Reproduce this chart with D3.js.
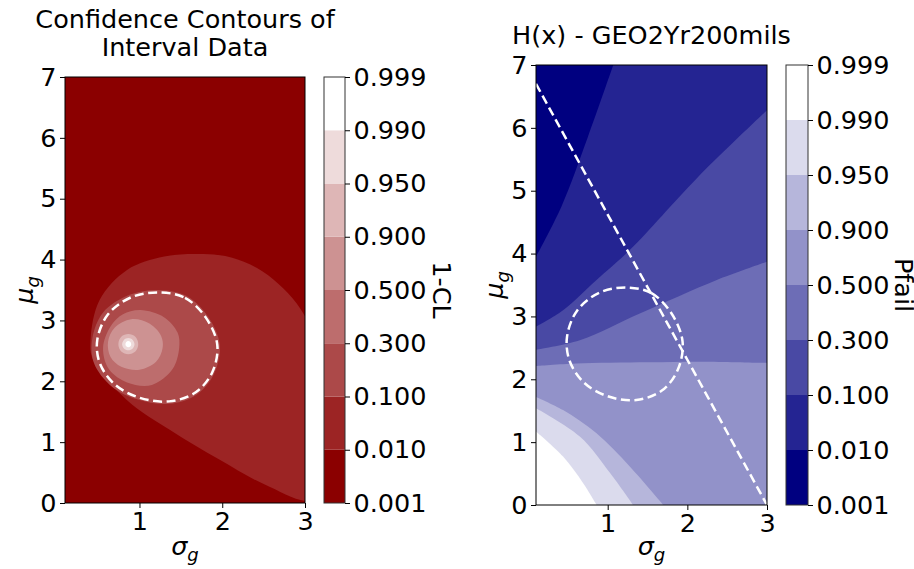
<!DOCTYPE html>
<html>
<head>
<meta charset="utf-8">
<title>Confidence contours</title>
<script src="https://cdn.jsdelivr.net/npm/d3@7"></script>
<style>
body { margin: 0; background: #fff; }
text { font-family: "DejaVu Sans", sans-serif; fill: #000; }
</style>
</head>
<body>
<script>
//Colorbar levels (band edges) and ticks
var levels = ["0.001", "0.010", "0.100", "0.300", "0.500", "0.900", "0.950", "0.990", "0.999"];
var xTicks = [1, 2, 3];
var yTicks = [0, 1, 2, 3, 4, 5, 6, 7];
var xDomain = [0.1, 3];
var yDomain = [0, 7];

//Confidence ellipse (sigma_g, mu_g), drawn on both panels
var ellipse = [[1.24, 3.46], [1.55, 3.37], [1.80, 3.05], [1.94, 2.60], [1.88, 2.15], [1.68, 1.82],
               [1.36, 1.67], [1.00, 1.73], [0.70, 1.95], [0.52, 2.30], [0.49, 2.68], [0.62, 3.10], [0.90, 3.38]];

//Left panel: closed contour rings of 1-CL, one per level 0.010 ... 0.990
var cl010 = [[0.41, 2.70], [0.52, 3.34], [0.85, 3.83], [1.30, 4.05], [1.77, 4.09], [2.12, 4.03], [2.42, 3.86],
             [2.68, 3.60], [2.90, 3.28], [3.08, 2.85], [3.25, 2.20], [3.30, 1.40], [3.20, 0.60], [3.08, 0.05],
             [2.52, 0.30], [1.97, 0.71], [1.37, 1.20], [0.85, 1.69], [0.44, 2.35]];
var cl100 = [[1.22, 3.50], [1.57, 3.40], [1.83, 3.06], [1.97, 2.60], [1.90, 2.12], [1.69, 1.78], [1.36, 1.63],
             [0.98, 1.70], [0.66, 1.92], [0.45, 2.30], [0.43, 2.70], [0.56, 3.13], [0.88, 3.42]];
var cl300 = [[1.01, 3.17], [1.30, 3.05], [1.46, 2.80], [1.48, 2.55], [1.40, 2.20], [1.15, 1.94], [0.85, 1.98],
             [0.63, 2.20], [0.56, 2.55], [0.65, 2.90], [0.80, 3.10]];
var cl500 = [[0.90, 3.02], [1.12, 2.95], [1.26, 2.75], [1.28, 2.55], [1.20, 2.32], [1.00, 2.19], [0.78, 2.24],
             [0.65, 2.40], [0.62, 2.65], [0.70, 2.88]];
var cl900 = [[0.865, 2.775], [0.95, 2.73], [0.985, 2.61], [0.95, 2.49], [0.865, 2.445], [0.78, 2.49], [0.745, 2.61], [0.78, 2.73]];
var cl950 = [[0.865, 2.71], [0.918, 2.68], [0.94, 2.61], [0.918, 2.54], [0.865, 2.51], [0.812, 2.54], [0.79, 2.61], [0.812, 2.68]];
var cl990 = [[0.865, 2.66], [0.89, 2.645], [0.90, 2.61], [0.89, 2.575], [0.865, 2.56], [0.84, 2.575], [0.83, 2.61], [0.84, 2.645]];

//Right panel: open Pfail boundaries, higher Pfail toward lower left
var pf010 = [[1.07, 7.00], [0.75, 5.85], [0.42, 4.75], [0.10, 3.95]];
var pf100 = [[3.00, 6.28], [2.12, 5.20], [1.28, 4.06], [0.86, 3.58], [0.44, 3.10], [0.10, 2.84]];
var pf300 = [[3.00, 3.87], [2.37, 3.58], [1.41, 3.05], [0.65, 2.62], [0.10, 2.47]];
var pf500 = [[3.00, 2.26], [2.20, 2.28], [1.50, 2.27], [0.60, 2.25], [0.10, 2.21]];
var pf900 = [[0.10, 1.72], [0.44, 1.51], [0.86, 1.14], [1.28, 0.61], [1.70, 0.00]];
var pf950 = [[0.10, 1.54], [0.65, 1.09], [1.03, 0.51], [1.32, 0.00]];
var pf990 = [[0.10, 1.17], [0.44, 0.77], [0.69, 0.35], [0.86, 0.00]];

//Limit state line
var limitLine = [[0.1, 6.70], [3.0, 0.0]];

var svgwidth = 914,
    svgheight = 569,
    fontSize = 25.5,
    subSize = 18;

var svg = d3.select("body").append("svg")
    .attr("width", svgwidth)
    .attr("height", svgheight);

svg.append("rect").attr("width", svgwidth).attr("height", svgheight).attr("fill", "#fff");

//Band colours, 8 discrete steps from dark to white
var redColors = d3.range(8).map(function(i) { return d3.interpolateRgb("#8b0000", "#ffffff")(i / 7); });
var blueColors = d3.range(8).map(function(i) { return d3.interpolateRgb("#000080", "#ffffff")(i / 7); });

var leftBox = {x0: 65, x1: 305, y0: 77, y1: 503, cb0: 324, cb1: 345};
var rightBox = {x0: 536, x1: 767, y0: 65, y1: 505, cb0: 786, cb1: 808};

function makePanel(id, box) {
  var x = d3.scaleLinear().domain(xDomain).range([box.x0, box.x1]);
  var y = d3.scaleLinear().domain(yDomain).range([box.y1, box.y0]);

  svg.append("clipPath").attr("id", id)
    .append("rect")
      .attr("x", box.x0).attr("y", box.y0)
      .attr("width", box.x1 - box.x0).attr("height", box.y1 - box.y0);

  var g = svg.append("g").attr("clip-path", "url(#" + id + ")");
  return {x: x, y: y, g: g};
}

function drawAxes(p, box) {
  svg.append("g")
      .attr("transform", "translate(0," + box.y1 + ")")
      .call(d3.axisBottom(p.x).tickValues(xTicks).tickFormat(d3.format("d")).tickSize(5).tickPadding(3.5).tickSizeOuter(0))
      .call(styleAxis);
  svg.append("g")
      .attr("transform", "translate(" + box.x0 + ",0)")
      .call(d3.axisLeft(p.y).tickValues(yTicks).tickFormat(d3.format("d")).tickSize(5).tickPadding(3.5).tickSizeOuter(0))
      .call(styleAxis);
  svg.append("rect")
      .attr("x", box.x0).attr("y", box.y0)
      .attr("width", box.x1 - box.x0).attr("height", box.y1 - box.y0)
      .attr("fill", "none").attr("stroke", "#000").attr("stroke-width", 1);
}

function styleAxis(sel) {
  sel.select(".domain").remove();
  sel.selectAll("text").attr("font-size", fontSize).attr("font-family", "DejaVu Sans");
  sel.selectAll("line").attr("stroke", "#000").attr("stroke-width", 1);
}

function drawColorbar(box, colors, label, labelX) {
  var cy = d3.scaleLinear().domain([0, 8]).range([box.y1, box.y0]);
  svg.append("g").selectAll("rect")
    .data(colors)
    .enter().append("rect")
      .attr("x", box.cb0)
      .attr("y", function(d, i) { return cy(i + 1); })
      .attr("width", box.cb1 - box.cb0)
      .attr("height", function(d, i) { return cy(i) - cy(i + 1); })
      .attr("fill", function(d) { return d; });
  svg.append("rect")
      .attr("x", box.cb0).attr("y", box.y0)
      .attr("width", box.cb1 - box.cb0).attr("height", box.y1 - box.y0)
      .attr("fill", "none").attr("stroke", "#333").attr("stroke-width", 1);
  svg.append("g")
      .attr("transform", "translate(" + box.cb1 + ",0)")
      .call(d3.axisRight(cy).tickValues(d3.range(9)).tickFormat(function(i) { return levels[i]; })
            .tickSize(5).tickPadding(3.5).tickSizeOuter(0))
      .call(styleAxis);
  var my = (box.y0 + box.y1) / 2;
  svg.append("text")
      .attr("transform", "translate(" + labelX + "," + my + ") rotate(90)")
      .attr("text-anchor", "middle")
      .attr("font-size", fontSize)
      .text(label);
}

function axisLabels(box, muX) {
  var cx = (box.x0 + box.x1) / 2;
  var sx = svg.append("text")
      .attr("x", cx).attr("y", 555)
      .attr("text-anchor", "middle")
      .attr("font-size", fontSize);
  sx.append("tspan").attr("font-style", "italic").text("σ");
  sx.append("tspan").attr("font-style", "italic").attr("font-size", subSize).attr("dy", 6).text("g");

  var my = (box.y0 + box.y1) / 2;
  var sy = svg.append("text")
      .attr("transform", "translate(" + muX + "," + my + ") rotate(-90)")
      .attr("text-anchor", "middle")
      .attr("font-size", fontSize);
  sy.append("tspan").attr("font-style", "italic").text("μ");
  sy.append("tspan").attr("font-style", "italic").attr("font-size", subSize).attr("dy", 6).text("g");
}

//Left panel: confidence contours
var L = makePanel("clipL", leftBox);
var ringLine = d3.line()
    .x(function(d) { return L.x(d[0]); })
    .y(function(d) { return L.y(d[1]); })
    .curve(d3.curveCatmullRomClosed.alpha(0.5));

L.g.append("rect")
    .attr("x", leftBox.x0).attr("y", leftBox.y0)
    .attr("width", leftBox.x1 - leftBox.x0).attr("height", leftBox.y1 - leftBox.y0)
    .attr("fill", redColors[0]);

L.g.selectAll(".ring")
  .data([cl010, cl100, cl300, cl500, cl900, cl950, cl990])
  .enter().append("path")
    .attr("class", "ring")
    .attr("d", ringLine)
    .attr("fill", function(d, i) { return redColors[i + 1]; });

L.g.append("path")
    .datum(ellipse)
    .attr("d", ringLine)
    .attr("fill", "none")
    .attr("stroke", "#fff")
    .attr("stroke-width", 2.5)
    .attr("stroke-dasharray", "9,4.5");

drawAxes(L, leftBox);
drawColorbar(leftBox, redColors, "1-CL", 433);
axisLabels(leftBox, 33);

svg.append("text")
    .attr("x", (leftBox.x0 + leftBox.x1) / 2).attr("y", 28)
    .attr("text-anchor", "middle").attr("font-size", fontSize)
    .text("Confidence Contours of");
svg.append("text")
    .attr("x", (leftBox.x0 + leftBox.x1) / 2).attr("y", 56)
    .attr("text-anchor", "middle").attr("font-size", fontSize)
    .text("Interval Data");

//Right panel: Pfail contours
var R = makePanel("clipR", rightBox);
var openLine = d3.line()
    .x(function(d) { return R.x(d[0]); })
    .y(function(d) { return R.y(d[1]); })
    .curve(d3.curveCatmullRom.alpha(0.5));

var xmin = xDomain[0], xmax = xDomain[1], ymin = yDomain[0], ymax = yDomain[1];
//Each boundary is closed round the high-Pfail side along the plot edge
var pfBands = [
  {pts: pf010, close: [[xmin, ymin], [xmax, ymin], [xmax, ymax]]},
  {pts: pf100, close: [[xmin, ymin], [xmax, ymin]]},
  {pts: pf300, close: [[xmin, ymin], [xmax, ymin]]},
  {pts: pf500, close: [[xmin, ymin], [xmax, ymin]]},
  {pts: pf900, close: [[xmin, ymin]]},
  {pts: pf950, close: [[xmin, ymin]]},
  {pts: pf990, close: [[xmin, ymin]]}
];

R.g.append("rect")
    .attr("x", rightBox.x0).attr("y", rightBox.y0)
    .attr("width", rightBox.x1 - rightBox.x0).attr("height", rightBox.y1 - rightBox.y0)
    .attr("fill", blueColors[0]);

R.g.selectAll(".band")
  .data(pfBands)
  .enter().append("path")
    .attr("class", "band")
    .attr("d", function(b) {
      return openLine(b.pts) + b.close.map(function(c) {
        return "L" + R.x(c[0]) + "," + R.y(c[1]);
      }).join("") + "Z";
    })
    .attr("fill", function(d, i) { return blueColors[i + 1]; });

var ellLine = d3.line()
    .x(function(d) { return R.x(d[0]); })
    .y(function(d) { return R.y(d[1]); })
    .curve(d3.curveCatmullRomClosed.alpha(0.5));

R.g.append("path")
    .datum(ellipse)
    .attr("d", ellLine)
    .attr("fill", "none")
    .attr("stroke", "#fff")
    .attr("stroke-width", 2.5)
    .attr("stroke-dasharray", "9,4.5");

R.g.append("path")
    .datum(limitLine)
    .attr("d", d3.line().x(function(d) { return R.x(d[0]); }).y(function(d) { return R.y(d[1]); }))
    .attr("fill", "none")
    .attr("stroke", "#fff")
    .attr("stroke-width", 2.5)
    .attr("stroke-dasharray", "9,4.5");

drawAxes(R, rightBox);
drawColorbar(rightBox, blueColors, "Pfail", 895);
axisLabels(rightBox, 503);

svg.append("text")
    .attr("x", (rightBox.x0 + rightBox.x1) / 2).attr("y", 44)
    .attr("text-anchor", "middle").attr("font-size", fontSize)
    .text("H(x) - GEO2Yr200mils");
</script>
</body>
</html>
